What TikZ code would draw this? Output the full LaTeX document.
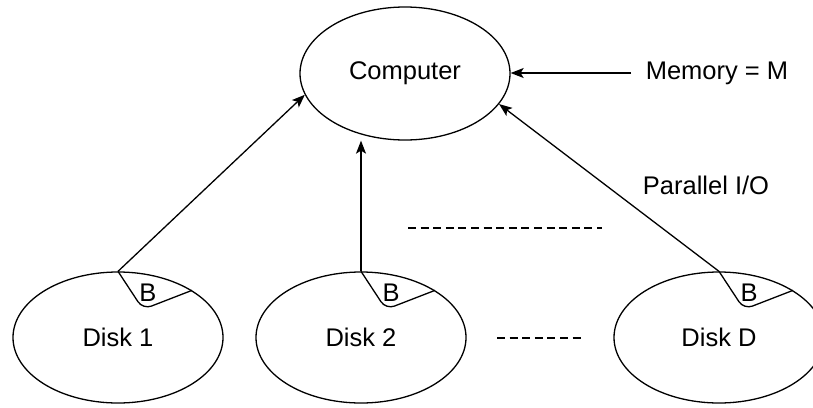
\documentclass[tikz,border=0pt]{standalone}
\usepackage{fontspec}
\setmainfont{Liberation Sans}
\usetikzlibrary{shapes.geometric,arrows.meta}

\begin{document}
\begin{tikzpicture}[x=1pt,y=-1pt,line width=1.3pt,
    font=\fontsize{25.5}{30}\selectfont,
    box/.style={draw,ellipse,minimum width=210pt,minimum height=133pt,inner sep=0pt},
    disk/.style={draw,ellipse,minimum width=210pt,minimum height=131pt,inner sep=0pt},
    io/.style={-{Stealth[length=13pt,width=10pt,inset=3pt]}},
    dots/.style={dash pattern=on 8pt off 4.6pt,line width=1.2pt}]
      \useasboundingbox (0,0) rectangle (813,407);
      \node[box] (C) at (405,73.5) {Computer};
      \node[inner sep=14pt] (M) at (717,73) {Memory = M};
      \node (P) at (706,185) {Parallel I/O};
      \node[disk] (D1) at (118,337.5) {Disk 1};
      \node[disk] (D2) at (361,337.5) {Disk 2};
      \node[disk] (DD) at (719,337.5) {Disk D};
      % block B cut out of each disk
      \draw[rounded corners=9pt] (D1.north) -- ++(25,38) -- ++(49,-19);
      \draw[rounded corners=9pt] (D2.north) -- ++(25,38) -- ++(49,-19);
      \draw[rounded corners=9pt] (DD.north) -- ++(25,38) -- ++(49,-19);
      \node (B1) at (148,293) {B};
      \node (B2) at (391,293) {B};
      \node (BD) at (749,293) {B};
      % transfers
      \draw[io] (M.west) -- (M.west -| C.east);
      \draw[io] (D1.north) -- (C.192);
      \draw[io] (D2.north) -- (D2.north |- C.south);
      \draw[io] (DD.north) -- (C.342);
      \draw[dots] (408,228) -- (602,228);
      \draw[dots] (497,338) -- (585,338);
    \end{tikzpicture}
\end{document}
